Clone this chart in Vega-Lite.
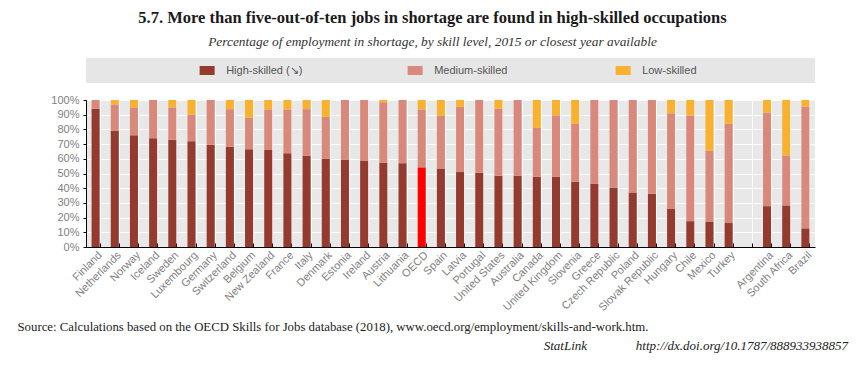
{
  "$schema": "https://vega.github.io/schema/vega-lite/v6.json",
  "padding": {"left": 17, "top": 10, "right": 5, "bottom": 5},
  "background": "white",
  "title": {
    "text": "5.7. More than five-out-of-ten jobs in shortage are found in high-skilled occupations",
    "subtitle": "Percentage of employment in shortage, by skill level, 2015 or closest year available",
    "anchor": "middle",
    "frame": "bounds",
    "font": "Liberation Serif",
    "fontSize": 16.5,
    "fontWeight": "bold",
    "color": "#1a1a1a",
    "subtitleFont": "Liberation Serif",
    "subtitleFontStyle": "italic",
    "subtitleFontSize": 13.4,
    "subtitleColor": "#333333",
    "subtitlePadding": 8,
    "offset": 10
  },
  "spacing": 17,
  "bounds": "flush",
  "config": {"view": {"stroke": null}},
  "vconcat": [
    {
      "width": 729,
      "height": 25,
      "view": {"fill": "#e6e6e6", "stroke": null},
      "data": {"values": [{"skill": "High-skilled (↘)"}, {"skill": "Medium-skilled"}, {"skill": "Low-skilled"}]},
      "layer": [
        {
          "mark": {"type": "point", "shape": "M-1,-0.6H1V0.6H-1Z", "size": 225, "filled": true, "opacity": 1},
          "encoding": {
            "x": {"field": "skill", "type": "nominal", "scale": {"type": "point", "domain": ["High-skilled (↘)", "Medium-skilled", "Low-skilled"], "padding": 0.7524, "align": 0.387}, "axis": null},
            "color": {"field": "skill", "type": "nominal", "scale": {"domain": ["High-skilled (↘)", "Medium-skilled", "Low-skilled"], "range": ["#943a2f", "#d9897c", "#f9b12f"]}, "legend": null}
          }
        },
        {
          "mark": {"type": "text", "align": "left", "dx": 19, "font": "Liberation Sans", "fontSize": 11, "color": "#555555"},
          "encoding": {
            "x": {"field": "skill", "type": "nominal", "scale": {"type": "point", "domain": ["High-skilled (↘)", "Medium-skilled", "Low-skilled"], "padding": 0.7524, "align": 0.387}, "axis": null},
            "text": {"field": "skill"}
          }
        }
      ]
    },
    {
      "width": 729,
      "height": 147,
      "view": {"fill": "#e8e8e8", "stroke": null},
      "title": {
        "text": "StatLink \u00a0\u00a0\u00a0\u00a0\u00a0\u00a0\u00a0\u00a0\u00a0\u00a0\u00a0\u00a0\u00a0 http://dx.doi.org/10.1787/888933938857",
        "orient": "bottom",
        "anchor": "end",
        "dx": 33,
        "offset": 7,
        "font": "Liberation Serif",
        "fontStyle": "italic",
        "fontSize": 13,
        "fontWeight": "normal",
        "color": "#222222"
      },
      "data": {"values": [
        {"country": "Finland", "skill": "High-skilled (↘)", "rank": 1, "value": 94},
        {"country": "Finland", "skill": "Medium-skilled", "rank": 2, "value": 6},
        {"country": "Finland", "skill": "Low-skilled", "rank": 3, "value": 0},
        {"country": "Netherlands", "skill": "High-skilled (↘)", "rank": 1, "value": 79},
        {"country": "Netherlands", "skill": "Medium-skilled", "rank": 2, "value": 18},
        {"country": "Netherlands", "skill": "Low-skilled", "rank": 3, "value": 3},
        {"country": "Norway", "skill": "High-skilled (↘)", "rank": 1, "value": 76},
        {"country": "Norway", "skill": "Medium-skilled", "rank": 2, "value": 19},
        {"country": "Norway", "skill": "Low-skilled", "rank": 3, "value": 5},
        {"country": "Iceland", "skill": "High-skilled (↘)", "rank": 1, "value": 74},
        {"country": "Iceland", "skill": "Medium-skilled", "rank": 2, "value": 26},
        {"country": "Iceland", "skill": "Low-skilled", "rank": 3, "value": 0},
        {"country": "Sweden", "skill": "High-skilled (↘)", "rank": 1, "value": 73},
        {"country": "Sweden", "skill": "Medium-skilled", "rank": 2, "value": 22},
        {"country": "Sweden", "skill": "Low-skilled", "rank": 3, "value": 5},
        {"country": "Luxembourg", "skill": "High-skilled (↘)", "rank": 1, "value": 72},
        {"country": "Luxembourg", "skill": "Medium-skilled", "rank": 2, "value": 18},
        {"country": "Luxembourg", "skill": "Low-skilled", "rank": 3, "value": 10},
        {"country": "Germany", "skill": "High-skilled (↘)", "rank": 1, "value": 69.6},
        {"country": "Germany", "skill": "Medium-skilled", "rank": 2, "value": 30.4},
        {"country": "Germany", "skill": "Low-skilled", "rank": 3, "value": 0},
        {"country": "Switzerland", "skill": "High-skilled (↘)", "rank": 1, "value": 68.2},
        {"country": "Switzerland", "skill": "Medium-skilled", "rank": 2, "value": 25.6},
        {"country": "Switzerland", "skill": "Low-skilled", "rank": 3, "value": 6.2},
        {"country": "Belgium", "skill": "High-skilled (↘)", "rank": 1, "value": 66.5},
        {"country": "Belgium", "skill": "Medium-skilled", "rank": 2, "value": 21.5},
        {"country": "Belgium", "skill": "Low-skilled", "rank": 3, "value": 12},
        {"country": "New Zealand", "skill": "High-skilled (↘)", "rank": 1, "value": 66},
        {"country": "New Zealand", "skill": "Medium-skilled", "rank": 2, "value": 27.6},
        {"country": "New Zealand", "skill": "Low-skilled", "rank": 3, "value": 6.4},
        {"country": "France", "skill": "High-skilled (↘)", "rank": 1, "value": 63.8},
        {"country": "France", "skill": "Medium-skilled", "rank": 2, "value": 29.8},
        {"country": "France", "skill": "Low-skilled", "rank": 3, "value": 6.4},
        {"country": "Italy", "skill": "High-skilled (↘)", "rank": 1, "value": 62},
        {"country": "Italy", "skill": "Medium-skilled", "rank": 2, "value": 31.8},
        {"country": "Italy", "skill": "Low-skilled", "rank": 3, "value": 6.2},
        {"country": "Denmark", "skill": "High-skilled (↘)", "rank": 1, "value": 60},
        {"country": "Denmark", "skill": "Medium-skilled", "rank": 2, "value": 28.6},
        {"country": "Denmark", "skill": "Low-skilled", "rank": 3, "value": 11.4},
        {"country": "Estonia", "skill": "High-skilled (↘)", "rank": 1, "value": 59.5},
        {"country": "Estonia", "skill": "Medium-skilled", "rank": 2, "value": 40.5},
        {"country": "Estonia", "skill": "Low-skilled", "rank": 3, "value": 0},
        {"country": "Ireland", "skill": "High-skilled (↘)", "rank": 1, "value": 58.9},
        {"country": "Ireland", "skill": "Medium-skilled", "rank": 2, "value": 41.1},
        {"country": "Ireland", "skill": "Low-skilled", "rank": 3, "value": 0},
        {"country": "Austria", "skill": "High-skilled (↘)", "rank": 1, "value": 57.4},
        {"country": "Austria", "skill": "Medium-skilled", "rank": 2, "value": 41.1},
        {"country": "Austria", "skill": "Low-skilled", "rank": 3, "value": 1.5},
        {"country": "Lithuania", "skill": "High-skilled (↘)", "rank": 1, "value": 57},
        {"country": "Lithuania", "skill": "Medium-skilled", "rank": 2, "value": 43},
        {"country": "Lithuania", "skill": "Low-skilled", "rank": 3, "value": 0},
        {"country": "OECD", "skill": "High-skilled (↘)", "rank": 1, "value": 54.2},
        {"country": "OECD", "skill": "Medium-skilled", "rank": 2, "value": 39.4},
        {"country": "OECD", "skill": "Low-skilled", "rank": 3, "value": 6.4},
        {"country": "Spain", "skill": "High-skilled (↘)", "rank": 1, "value": 53.4},
        {"country": "Spain", "skill": "Medium-skilled", "rank": 2, "value": 35.8},
        {"country": "Spain", "skill": "Low-skilled", "rank": 3, "value": 10.8},
        {"country": "Latvia", "skill": "High-skilled (↘)", "rank": 1, "value": 51},
        {"country": "Latvia", "skill": "Medium-skilled", "rank": 2, "value": 44.4},
        {"country": "Latvia", "skill": "Low-skilled", "rank": 3, "value": 4.6},
        {"country": "Portugal", "skill": "High-skilled (↘)", "rank": 1, "value": 50.5},
        {"country": "Portugal", "skill": "Medium-skilled", "rank": 2, "value": 49.5},
        {"country": "Portugal", "skill": "Low-skilled", "rank": 3, "value": 0},
        {"country": "United States", "skill": "High-skilled (↘)", "rank": 1, "value": 48.5},
        {"country": "United States", "skill": "Medium-skilled", "rank": 2, "value": 45.5},
        {"country": "United States", "skill": "Low-skilled", "rank": 3, "value": 6},
        {"country": "Australia", "skill": "High-skilled (↘)", "rank": 1, "value": 48.4},
        {"country": "Australia", "skill": "Medium-skilled", "rank": 2, "value": 51.6},
        {"country": "Australia", "skill": "Low-skilled", "rank": 3, "value": 0},
        {"country": "Canada", "skill": "High-skilled (↘)", "rank": 1, "value": 47.8},
        {"country": "Canada", "skill": "Medium-skilled", "rank": 2, "value": 33.2},
        {"country": "Canada", "skill": "Low-skilled", "rank": 3, "value": 19},
        {"country": "United Kingdom", "skill": "High-skilled (↘)", "rank": 1, "value": 47.7},
        {"country": "United Kingdom", "skill": "Medium-skilled", "rank": 2, "value": 41.9},
        {"country": "United Kingdom", "skill": "Low-skilled", "rank": 3, "value": 10.4},
        {"country": "Slovenia", "skill": "High-skilled (↘)", "rank": 1, "value": 44.3},
        {"country": "Slovenia", "skill": "Medium-skilled", "rank": 2, "value": 39.4},
        {"country": "Slovenia", "skill": "Low-skilled", "rank": 3, "value": 16.3},
        {"country": "Greece", "skill": "High-skilled (↘)", "rank": 1, "value": 42.9},
        {"country": "Greece", "skill": "Medium-skilled", "rank": 2, "value": 57.1},
        {"country": "Greece", "skill": "Low-skilled", "rank": 3, "value": 0},
        {"country": "Czech Republic", "skill": "High-skilled (↘)", "rank": 1, "value": 40.3},
        {"country": "Czech Republic", "skill": "Medium-skilled", "rank": 2, "value": 59.7},
        {"country": "Czech Republic", "skill": "Low-skilled", "rank": 3, "value": 0},
        {"country": "Poland", "skill": "High-skilled (↘)", "rank": 1, "value": 37.1},
        {"country": "Poland", "skill": "Medium-skilled", "rank": 2, "value": 62.9},
        {"country": "Poland", "skill": "Low-skilled", "rank": 3, "value": 0},
        {"country": "Slovak Republic", "skill": "High-skilled (↘)", "rank": 1, "value": 36.2},
        {"country": "Slovak Republic", "skill": "Medium-skilled", "rank": 2, "value": 63.8},
        {"country": "Slovak Republic", "skill": "Low-skilled", "rank": 3, "value": 0},
        {"country": "Hungary", "skill": "High-skilled (↘)", "rank": 1, "value": 26.1},
        {"country": "Hungary", "skill": "Medium-skilled", "rank": 2, "value": 64.9},
        {"country": "Hungary", "skill": "Low-skilled", "rank": 3, "value": 9},
        {"country": "Chile", "skill": "High-skilled (↘)", "rank": 1, "value": 17.6},
        {"country": "Chile", "skill": "Medium-skilled", "rank": 2, "value": 71.9},
        {"country": "Chile", "skill": "Low-skilled", "rank": 3, "value": 10.5},
        {"country": "Mexico", "skill": "High-skilled (↘)", "rank": 1, "value": 17},
        {"country": "Mexico", "skill": "Medium-skilled", "rank": 2, "value": 48.6},
        {"country": "Mexico", "skill": "Low-skilled", "rank": 3, "value": 34.4},
        {"country": "Turkey", "skill": "High-skilled (↘)", "rank": 1, "value": 16.3},
        {"country": "Turkey", "skill": "Medium-skilled", "rank": 2, "value": 67.5},
        {"country": "Turkey", "skill": "Low-skilled", "rank": 3, "value": 16.2},
        {"country": "Argentina", "skill": "High-skilled (↘)", "rank": 1, "value": 27.8},
        {"country": "Argentina", "skill": "Medium-skilled", "rank": 2, "value": 63.7},
        {"country": "Argentina", "skill": "Low-skilled", "rank": 3, "value": 8.5},
        {"country": "South Africa", "skill": "High-skilled (↘)", "rank": 1, "value": 28.3},
        {"country": "South Africa", "skill": "Medium-skilled", "rank": 2, "value": 34},
        {"country": "South Africa", "skill": "Low-skilled", "rank": 3, "value": 37.7},
        {"country": "Brazil", "skill": "High-skilled (↘)", "rank": 1, "value": 12.7},
        {"country": "Brazil", "skill": "Medium-skilled", "rank": 2, "value": 82.9},
        {"country": "Brazil", "skill": "Low-skilled", "rank": 3, "value": 4.4}
      ]},
      "mark": {"type": "bar"},
      "encoding": {
        "x": {
          "field": "country",
          "type": "nominal",
          "scale": {
            "domain": ["Finland", "Netherlands", "Norway", "Iceland", "Sweden", "Luxembourg", "Germany", "Switzerland", "Belgium", "New Zealand", "France", "Italy", "Denmark", "Estonia", "Ireland", "Austria", "Lithuania", "OECD", "Spain", "Latvia", "Portugal", "United States", "Australia", "Canada", "United Kingdom", "Slovenia", "Greece", "Czech Republic", "Poland", "Slovak Republic", "Hungary", "Chile", "Mexico", "Turkey", " ", "Argentina", "South Africa", "Brazil"],
            "paddingInner": 0.58,
            "paddingOuter": 0.29
          },
          "axis": {
            "title": "Source: Calculations based on the OECD Skills for Jobs database (2018), www.oecd.org/employment/skills-and-work.htm.",
            "titleX": -69,
            "titleY": 83,
            "titleAlign": "left",
            "titleAnchor": "start",
            "titleBaseline": "alphabetic",
            "titleFont": "Liberation Serif",
            "titleFontSize": 12.8,
            "titleFontWeight": "normal",
            "titleColor": "#222222",
            "labelAngle": -45,
            "labelAlign": "right",
            "labelBaseline": "top",
            "labelFont": "Liberation Sans",
            "labelFontSize": 11,
            "labelColor": "#808080",
            "labelPadding": 6,
            "tickBand": "extent",
            "tickSize": -4,
            "tickColor": "#000000",
            "domainColor": "#000000",
            "grid": true,
            "gridColor": "#ffffff",
            "gridWidth": 1
          }
        },
        "y": {
          "field": "value",
          "type": "quantitative",
          "stack": "zero",
          "scale": {"domain": [0, 100], "nice": false},
          "axis": {
            "values": [0, 10, 20, 30, 40, 50, 60, 70, 80, 90, 100],
            "labelExpr": "datum.value + '%'",
            "title": null,
            "grid": true,
            "gridColor": "#ffffff",
            "gridWidth": 1,
            "domainColor": "#000000",
            "tickColor": "#000000",
            "tickSize": 3,
            "labelColor": "#808080",
            "labelFontSize": 11,
            "labelFont": "Liberation Sans",
            "labelPadding": 4
          }
        },
        "color": {
          "condition": {"test": "datum.country === 'OECD' && datum.rank === 1", "value": "#ff0000"},
          "field": "skill",
          "type": "nominal",
          "scale": {"domain": ["High-skilled (↘)", "Medium-skilled", "Low-skilled"], "range": ["#943a2f", "#d9897c", "#f9b12f"]},
          "legend": null
        },
        "order": {"field": "rank", "type": "quantitative"}
      }
    }
  ]
}
